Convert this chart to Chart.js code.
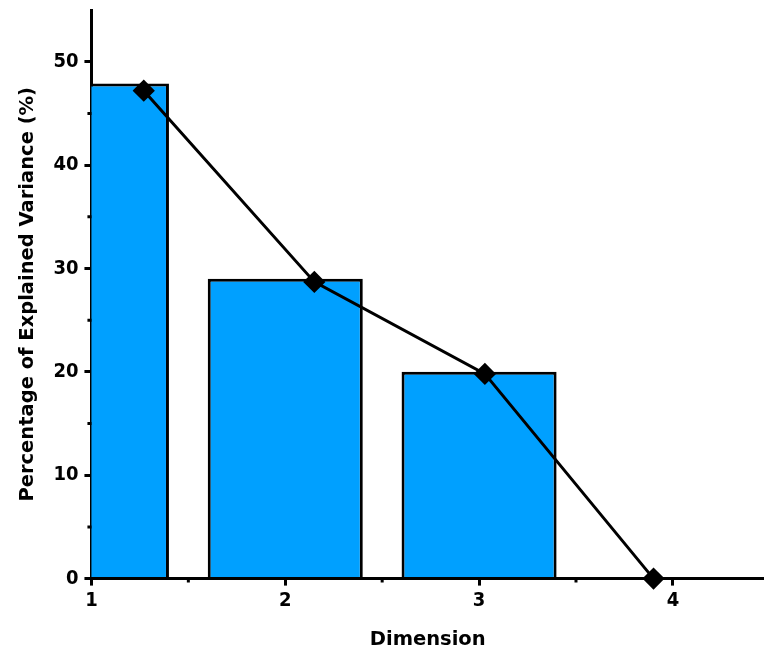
<!DOCTYPE html>
<html lang="en">
<head>
	<meta charset="utf-8">
	<title>Explained Variance</title>
	<style>
		html, body { margin: 0; padding: 0; background: #fff; overflow: hidden; }
		canvas { display: block; }
	</style>
</head>
<body>
	<canvas id="screeChart" width="764" height="654"></canvas>

	<script src="https://cdn.jsdelivr.net/npm/chart.js@4.4.1/dist/chart.umd.min.js"></script>
	<script>
		// values
		const dimensions = [1, 2, 3, 4];
		const barValues = [47.9, 29.0, 20.0, 0];
		const lineX = [1.27, 2.15, 3.03, 3.9];
		const lineValues = [47.2, 28.7, 19.8, 0];
		const xTicks = [1, 2, 3, 4];
		const xMinor = [1.5, 2.5, 3.5];
		const yTicks = [0, 10, 20, 30, 40, 50];
		const yMinor = [5, 15, 25, 35, 45];

		const tickFont = { family: '"DejaVu Sans Condensed", "DejaVu Sans"', size: 20, weight: 'bold' };
		const titleFont = { family: 'DejaVu Sans', size: 19.5, weight: 'bold' };

		// short outward ticks between the labelled ones
		const minorTicks = {
			id: 'minorTicks',
			afterDraw(chart) {
				const { ctx, scales: { x, y } } = chart;
				ctx.save();
				ctx.strokeStyle = '#000';
				ctx.lineWidth = 3;
				ctx.beginPath();
				xMinor.forEach(v => {
					const px = x.getPixelForValue(v);
					ctx.moveTo(px, x.top);
					ctx.lineTo(px, x.top + 4);
				});
				yMinor.forEach(v => {
					const py = y.getPixelForValue(v);
					ctx.moveTo(y.right, py);
					ctx.lineTo(y.right - 4, py);
				});
				ctx.stroke();
				ctx.restore();
			}
		};

		new Chart(document.getElementById('screeChart'), {
			type: 'bar',
			data: {
				datasets: [
					{
						type: 'line',
						data: lineX.map((v, i) => ({ x: v, y: lineValues[i] })),
						borderColor: '#000',
						backgroundColor: '#000',
						borderWidth: 3,
						pointStyle: 'rectRot',
						pointRadius: 9,
						pointHoverRadius: 9,
						clip: false,
						order: 0
					},
					{
						data: dimensions.map((v, i) => ({ x: v, y: barValues[i] })),
						backgroundColor: '#00a0ff',
						borderColor: '#000',
						borderWidth: 3,
						categoryPercentage: 1,
						barPercentage: 0.8,
						order: 1
					}
				]
			},
			options: {
				responsive: false,
				animation: false,
				layout: { autoPadding: false, padding: { top: 10, right: 0, left: 12, bottom: 2 } },
				plugins: {
					legend: { display: false },
					tooltip: { enabled: false }
				},
				scales: {
					x: {
						type: 'linear',
						min: 1,
						max: 4.47,
						offset: false,
						afterBuildTicks: s => { s.ticks = xTicks.map(v => ({ value: v })); },
						afterFit: s => { s.paddingRight = 0; s.paddingLeft = 0; },
						grid: { offset: false, drawOnChartArea: false, color: '#000', lineWidth: 3, tickLength: 7 },
						border: { color: '#000', width: 3 },
						ticks: { color: '#000', font: tickFont, padding: 3, maxRotation: 0 },
						title: { display: true, text: 'Dimension', color: '#000', font: titleFont, padding: { top: 13, bottom: 0 } }
					},
					y: {
						min: 0,
						max: 55,
						afterBuildTicks: s => { s.ticks = yTicks.map(v => ({ value: v })); },
						afterFit: s => { s.paddingTop = 0; s.paddingBottom = 0; },
						grid: { drawOnChartArea: false, color: '#000', lineWidth: 3, tickLength: 7 },
						border: { color: '#000', width: 3 },
						ticks: { color: '#000', font: tickFont, padding: 6 },
						title: { display: true, text: 'Percentage of Explained Variance (%)', color: '#000', font: titleFont, padding: { bottom: 8 } }
					}
				}
			},
			plugins: [minorTicks]
		});
	</script>
</body>
</html>
